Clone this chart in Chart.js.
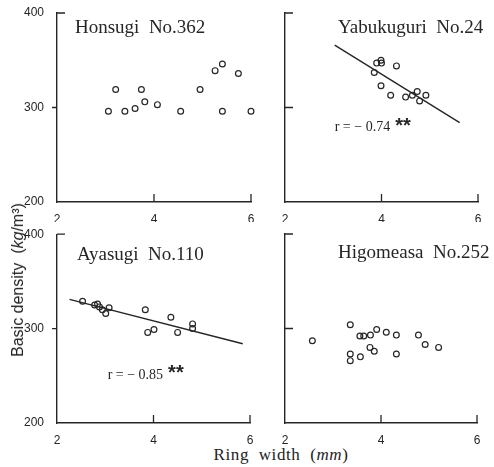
<!DOCTYPE html>
<html>
<head>
<meta charset="utf-8">
<script src="https://cdn.jsdelivr.net/npm/chart.js@4/dist/chart.umd.min.js"></script>
<style>
  body { margin: 0; background: #fff; width: 494px; height: 467px; position: relative; overflow: hidden; }
  canvas { position: absolute; }
  .ytitle {
    position: absolute; left: 18px; top: 280px; transform: translate(-50%, -50%) rotate(-90deg);
    font: 16px "Liberation Sans", Arial, sans-serif; color: #222; white-space: pre;
  }
  .xtitle {
    position: absolute; left: 281px; top: 455px; transform: translate(-50%, -50%);
    font: 17px "Liberation Serif", serif; color: #222; white-space: pre; letter-spacing: 0.6px;
  }
</style>
</head>
<body>
<canvas id="c0" width="240" height="222" style="left:20px;top:0"></canvas>
<canvas id="c1" width="234" height="222" style="left:260px;top:0"></canvas>
<canvas id="c2" width="240" height="222" style="left:20px;top:222px"></canvas>
<canvas id="c3" width="234" height="222" style="left:260px;top:222px"></canvas>
<div class="ytitle">Basic density  (<i>kg</i>/m³)</div>
<div class="xtitle">Ring  width  (<i>mm</i>)</div>
<script>
// ring width (mm) and basic density (kg/m3)
const honsugiX = [3.06, 3.21, 3.40, 3.61, 3.74, 3.81, 4.07, 4.55, 4.95, 5.26, 5.41, 5.41, 5.74, 6.0];
const honsugiY = [296, 319, 296, 299, 319, 306, 303, 296, 319, 339, 346, 296, 336, 296];

const yabuX = [3.90, 3.99, 4.00, 3.85, 4.31, 3.99, 4.19, 4.50, 4.64, 4.74, 4.79, 4.92];
const yabuY = [347, 350, 347, 337, 344, 323, 313, 311, 313, 317, 307, 313];
const yabuFitX = [3.03, 5.62];
const yabuFitY = [366, 284];

const ayaX = [2.53, 2.78, 2.84, 2.88, 2.94, 3.01, 3.08, 3.83, 3.88, 4.01, 4.36, 4.50, 4.81, 4.81];
const ayaY = [329, 325, 326, 323, 320, 316, 322, 320, 296, 299, 312, 296, 305, 300];
const ayaFitX = [2.26, 5.85];
const ayaFitY = [331, 284];

const higoX = [2.57, 3.36, 3.36, 3.36, 3.57, 3.56, 3.64, 3.78, 3.77, 3.86, 3.91, 4.11, 4.32, 4.32, 4.78, 4.92, 5.20];
const higoY = [287, 304, 273, 266, 270, 292, 292, 293, 280, 276, 299, 296, 293, 273, 293, 283, 280];

const xTicks = [2, 4, 6];
const yTicks = [200, 300, 400];
const panelTitles = ['Honsugi  No.362', 'Yabukuguri  No.24', 'Ayasugi  No.110', 'Higomeasa  No.252'];
const rLabels = ['', 'r = − 0.74', 'r = − 0.85', ''];

const INK = '#262626';

const tickMarks = {
    id: 'tickMarks',
    afterDraw(chart, args, opts) {
        const { ctx, chartArea: a, scales: { x, y } } = chart;
        ctx.save();
        ctx.strokeStyle = INK;
        ctx.lineWidth = 1.3;
        ctx.beginPath();
        xTicks.slice(1).forEach(v => {
            const px = x.getPixelForValue(v);
            ctx.moveTo(px, a.bottom);
            ctx.lineTo(px, a.bottom - 8);
        });
        yTicks.slice(1).forEach(v => {
            const py = y.getPixelForValue(v);
            const out = opts.outward && v === 300;
            ctx.moveTo(a.left, py);
            ctx.lineTo(out ? a.left - 5 : a.left + 8, py);
        });
        ctx.stroke();
        ctx.restore();
    }
};

const panelText = {
    id: 'panelText',
    afterDraw(chart, args, opts) {
        const { ctx, chartArea: a, scales: { x, y } } = chart;
        ctx.save();
        ctx.fillStyle = INK;
        ctx.textBaseline = 'middle';
        ctx.font = '19px "Liberation Serif", serif';
        ctx.fillText(opts.title, a.left + opts.titleDx, a.top + opts.titleDy);
        if (opts.r) {
            const px = x.getPixelForValue(opts.rAt[0]);
            const py = y.getPixelForValue(opts.rAt[1]);
            ctx.font = '14px "Liberation Serif", serif';
            ctx.fillText(opts.r, px, py);
            const w = ctx.measureText(opts.r).width;
            ctx.font = 'bold 20px "Liberation Sans", sans-serif';
            ctx.fillText('**', px + w + 5, py - 1);
        }
        ctx.restore();
    }
};

const toPoints = (xs, ys) => xs.map((v, i) => ({ x: v, y: ys[i] }));

function makePanel(id, p) {
    const datasets = [];
    if (p.fitX) {
        datasets.push({
            data: toPoints(p.fitX, p.fitY),
            showLine: true,
            borderColor: INK,
            borderWidth: 1.4,
            pointRadius: 0,
            clip: false
        });
    }
    datasets.push({
        data: toPoints(p.xs, p.ys),
        pointRadius: 2.9,
        pointBorderWidth: 1.2,
        borderColor: INK,
        backgroundColor: 'rgba(255,255,255,0)',
        clip: false
    });

    const tickFont = { family: '"Liberation Sans", Arial, sans-serif', size: 12 };

    new Chart(document.getElementById(id), {
        type: 'scatter',
        data: { datasets },
        options: {
            responsive: false,
            animation: false,
            layout: { padding: { top: p.padTop, right: p.padRight, left: 0, bottom: 0 } },
            plugins: {
                legend: { display: false },
                tooltip: { enabled: false },
                tickMarks: { outward: p.showY },
                panelText: { title: p.title, titleDx: p.titleDx, titleDy: p.titleDy, r: p.r, rAt: p.rAt }
            },
            scales: {
                x: {
                    type: 'linear', min: 2, max: 6,
                    afterBuildTicks: s => { s.ticks = xTicks.map(v => ({ value: v })); },
                    afterFit: s => { s.height = p.xHeight; },
                    grid: { display: false },
                    border: { color: INK, width: 1.4 },
                    ticks: { color: INK, font: tickFont, padding: 2, maxRotation: 0 }
                },
                y: {
                    type: 'linear', min: 200, max: 400,
                    afterBuildTicks: s => { s.ticks = yTicks.map(v => ({ value: v })); },
                    afterFit: s => { s.width = p.yWidth; },
                    grid: { display: false },
                    border: { color: INK, width: 1.4 },
                    ticks: { display: p.showY, color: INK, font: tickFont, padding: 5 }
                }
            }
        },
        plugins: [tickMarks, panelText]
    });
}

makePanel('c0', { xs: honsugiX, ys: honsugiY, title: panelTitles[0], titleDx: 18, titleDy: 15,
    padTop: 13, padRight: 9, xHeight: 20, yWidth: 37, showY: true });
makePanel('c1', { xs: yabuX, ys: yabuY, fitX: yabuFitX, fitY: yabuFitY, title: panelTitles[1], titleDx: 53, titleDy: 15,
    r: rLabels[1], rAt: [3.03, 279], padTop: 13, padRight: 16, xHeight: 20, yWidth: 25, showY: false });
makePanel('c2', { xs: ayaX, ys: ayaY, fitX: ayaFitX, fitY: ayaFitY, title: panelTitles[2], titleDx: 20, titleDy: 21,
    r: rLabels[2], rAt: [3.05, 251], padTop: 12, padRight: 10, xHeight: 21, yWidth: 37, showY: true });
makePanel('c3', { xs: higoX, ys: higoY, title: panelTitles[3], titleDx: 53, titleDy: 19,
    padTop: 12, padRight: 17, xHeight: 21, yWidth: 25, showY: false });
</script>
</body>
</html>
